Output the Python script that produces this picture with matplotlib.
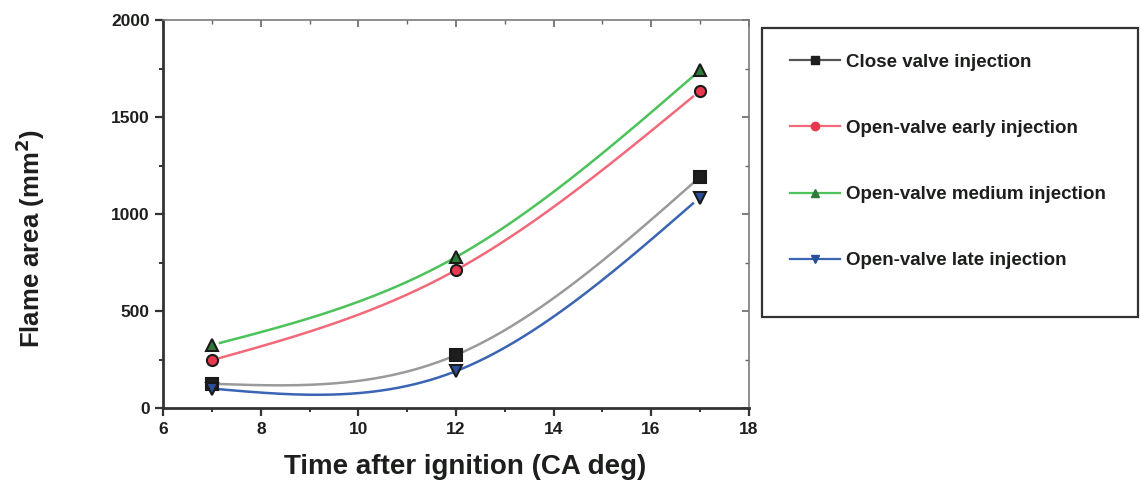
import numpy as np
import matplotlib
matplotlib.use("Agg")
import matplotlib.pyplot as plt
from matplotlib.ticker import MultipleLocator
from matplotlib.lines import Line2D
from matplotlib.patches import Rectangle

plt.rcParams['font.family'] = ['Liberation Sans', 'DejaVu Sans']

# Data
time_ca = [7, 12, 17]
close_valve = [125, 273, 1190]
open_early = [247, 711, 1634]
open_medium = [325, 778, 1740]
open_late = [100, 190, 1085]

labels = ["Close valve injection", "Open-valve early injection",
          "Open-valve medium injection", "Open-valve late injection"]
series = [close_valve, open_early, open_medium, open_late]
line_colors = ["#9a9a9a", "#f2697a", "#4cc25a", "#3a64b4"]
legend_line_colors = ["#555555", "#f2697a", "#4cc25a", "#3a64b4"]
marker_face = ["#1e1e1e", "#e8384e", "#2e7a36", "#2c4f9c"]
markers = ["s", "o", "^", "v"]


def natural_spline(x, y, xs):
    """Natural cubic spline through (x, y), evaluated at xs."""
    x = np.asarray(x, float)
    y = np.asarray(y, float)
    n = len(x)
    h = np.diff(x)
    A = np.zeros((n, n))
    b = np.zeros(n)
    A[0, 0] = A[-1, -1] = 1.0
    for i in range(1, n - 1):
        A[i, i - 1] = h[i - 1] / 6
        A[i, i] = (h[i - 1] + h[i]) / 3
        A[i, i + 1] = h[i] / 6
        b[i] = (y[i + 1] - y[i]) / h[i] - (y[i] - y[i - 1]) / h[i - 1]
    M = np.linalg.solve(A, b)
    out = np.empty_like(xs)
    for k, xv in enumerate(xs):
        i = min(max(np.searchsorted(x, xv) - 1, 0), n - 2)
        t0, t1 = xv - x[i], x[i + 1] - xv
        out[k] = (M[i] * t1 ** 3 / (6 * h[i]) + M[i + 1] * t0 ** 3 / (6 * h[i])
                  + (y[i] / h[i] - M[i] * h[i] / 6) * t1
                  + (y[i + 1] / h[i] - M[i + 1] * h[i] / 6) * t0)
    return out


fig = plt.figure(figsize=(11.4, 4.86), dpi=100)
ax = fig.add_axes([0.1434, 0.1605, 0.5132, 0.7983])

text_col = "#1c1f1c"
xs = np.linspace(time_ca[0] + 0.16, time_ca[-1] - 0.14, 300)
for vals, lc, mf, mk in zip(series, line_colors, marker_face, markers):
    ax.plot(xs, natural_spline(time_ca, vals, xs), color=lc, lw=1.8, zorder=2)
    ax.plot(time_ca, vals, linestyle="none", marker=mk, markersize=8,
            markerfacecolor=mf, markeredgecolor="#1a1a1a", markeredgewidth=1.5,
            zorder=3)

ax.set_xlim(6, 18)
ax.set_ylim(0, 2000)
ax.xaxis.set_major_locator(MultipleLocator(2))
ax.xaxis.set_minor_locator(MultipleLocator(1))
ax.yaxis.set_major_locator(MultipleLocator(500))
ax.yaxis.set_minor_locator(MultipleLocator(250))

for side in ["left", "bottom"]:
    ax.spines[side].set_linewidth(2.0)
    ax.spines[side].set_color("#333333")
for side in ["top", "right"]:
    ax.spines[side].set_linewidth(1.2)
    ax.spines[side].set_color("#7a7a7a")

ax.tick_params(which="major", direction="out", length=6, width=1.6,
               color="#333333", labelsize=12.5, labelcolor=text_col, pad=4)
ax.tick_params(which="minor", direction="out", length=3, width=1.4,
               color="#333333")
for lab in ax.get_xticklabels() + ax.get_yticklabels():
    lab.set_fontweight("bold")

# mirrored inward ticks on top and right
top = ax.secondary_xaxis("top")
top.xaxis.set_major_locator(MultipleLocator(2))
top.xaxis.set_minor_locator(MultipleLocator(1))
top.tick_params(which="major", direction="in", length=5, width=1.2,
                color="#666666", labeltop=False)
top.tick_params(which="minor", direction="in", length=3, width=1.0,
                color="#666666")
top.spines["top"].set_visible(False)
right = ax.secondary_yaxis("right")
right.yaxis.set_major_locator(MultipleLocator(500))
right.yaxis.set_minor_locator(MultipleLocator(250))
right.tick_params(which="major", direction="in", length=5, width=1.2,
                  color="#666666", labelright=False)
right.tick_params(which="minor", direction="in", length=3, width=1.0,
                  color="#666666")
right.spines["right"].set_visible(False)

ax.set_xlabel("Time after ignition (CA deg)", fontsize=20, fontweight="bold",
              color=text_col)
ax.xaxis.set_label_coords(0.515, -0.118)
ax.set_ylabel("Flame area (mm$^\\mathbf{2}$)", fontsize=18.5, fontweight="bold",
              color=text_col)
ax.yaxis.set_label_coords(-0.199, 0.438)

# legend panel
fig.patches.append(Rectangle((0.6684, 0.3477), 0.3298, 0.5947,
                             transform=fig.transFigure, fill=False,
                             edgecolor="#333333", linewidth=1.6))
handles = [Line2D([0], [0], color=lc, lw=1.6, marker=mk, markersize=6,
                  markerfacecolor=mf, markeredgecolor=mf)
           for lc, mf, mk in zip(legend_line_colors, marker_face, markers)]
leg = fig.legend(handles, labels, loc="upper left",
                 bbox_to_anchor=(0.693, 0.890), frameon=False,
                 prop={"weight": "bold", "size": 13.5}, labelspacing=2.62,
                 handlelength=2.67, handletextpad=0.32, borderpad=0,
                 borderaxespad=0)
for t in leg.get_texts():
    t.set_color(text_col)

fig.savefig("out.png", dpi=100, facecolor="white")
